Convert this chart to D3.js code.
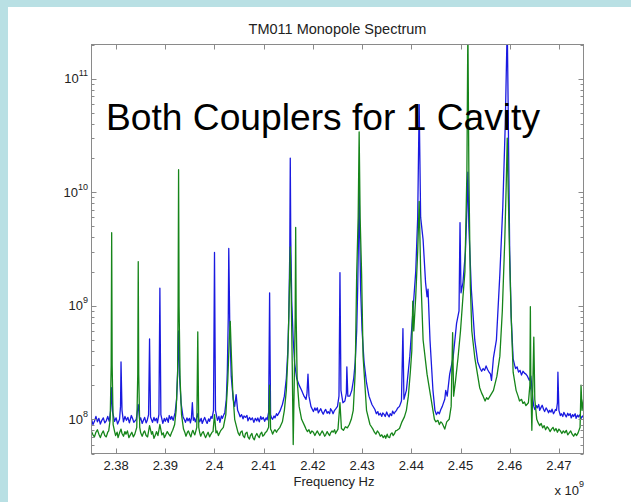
<!DOCTYPE html>
<html>
<head>
<meta charset="utf-8">
<script src="https://cdn.jsdelivr.net/npm/d3@7"></script>
<style>
  body { margin: 0; background: #b9e0e4; }
  svg { display: block; }
</style>
</head>
<body>
<svg id="chart" width="631" height="502"></svg>
<script>
// tick values / labels
const xTicks = [2.38, 2.39, 2.40, 2.41, 2.42, 2.43, 2.44, 2.45, 2.46, 2.47];
const xTickLabels = ['2.38', '2.39', '2.4', '2.41', '2.42', '2.43', '2.44', '2.45', '2.46', '2.47'];
const yTickExps = [8, 9, 10, 11];

// spectra: [frequency (GHz), amplitude]
const blueSpectrum = [
  [2.3750, 1.00e8], [2.3753, 9.0e7], [2.3756, 9.6e7], [2.3759, 1.06e8], [2.3762, 9.5e7], [2.3765, 1.02e8],
  [2.3768, 9.1e7], [2.3771, 9.8e7], [2.3774, 1.03e8], [2.3777, 9.3e7], [2.3780, 9.7e7], [2.3783, 1.06e8],
  [2.3786, 9.6e7], [2.3789, 1.2e8], [2.3791, 1.9e8], [2.3793, 1.15e8],
  [2.3797, 9.6e7], [2.3800, 1.03e8], [2.3803, 9.1e7], [2.3807, 1.0e8], [2.3809, 1.3e8], [2.3810, 3.2e8],
  [2.3812, 1.2e8], [2.3815, 9.5e7], [2.3818, 1.06e8], [2.3821, 9.8e7], [2.3824, 1.04e8], [2.3827, 9.3e7], [2.3831, 1.08e8],
  [2.3834, 1.0e8], [2.3836, 9.4e7], [2.3841, 1.0e8], [2.3845, 1.35e8], [2.3848, 9.8e7], [2.3850, 1.03e8], [2.3853, 9.2e7],
  [2.3856, 9.9e7], [2.3858, 1.04e8], [2.3861, 9.3e7], [2.3863, 9.7e7], [2.3866, 1.1e8], [2.3868, 5.1e8], [2.3870, 1.05e8],
  [2.3874, 9.4e7], [2.3877, 1.04e8], [2.3879, 9.7e7], [2.3882, 1.02e8], [2.3884, 9.3e7], [2.3887, 1.1e8], [2.3889, 1.43e9],
  [2.3891, 1.1e8], [2.3895, 9.2e7], [2.3898, 1.02e8], [2.3900, 9.6e7], [2.3903, 1.03e8], [2.3906, 9.4e7], [2.3908, 1.08e8],
  [2.3911, 1.0e8], [2.3913, 1.06e8], [2.3916, 9.8e7], [2.3920, 1.15e8], [2.3923, 1.5e8], [2.3925, 2.6e8], [2.3927, 6.0e8],
  [2.3929, 2.4e8], [2.3932, 1.4e8], [2.3936, 1.05e8], [2.3939, 9.9e7], [2.3941, 9.4e7], [2.3944, 1.03e8], [2.3946, 9.7e7],
  [2.3949, 1.02e8], [2.3951, 9.3e7], [2.3953, 1.02e8], [2.3955, 1.4e8], [2.3957, 9.8e7], [2.3959, 1.03e8], [2.3961, 9.5e7],
  [2.3964, 1.04e8], [2.3966, 1.12e8], [2.3968, 1.0e8], [2.3970, 9.5e7], [2.3973, 1.02e8], [2.3975, 9.2e7], [2.3978, 9.9e7],
  [2.3980, 1.04e8], [2.3983, 9.6e7], [2.3985, 9.2e7], [2.3988, 1.01e8], [2.3990, 9.6e7], [2.3993, 1.06e8], [2.3995, 1.02e8],
  [2.3998, 1.2e8], [2.4000, 2.95e9], [2.4002, 1.2e8],
  [2.4006, 9.8e7], [2.4009, 1.06e8], [2.4011, 9.4e7], [2.4014, 1.07e8], [2.4016, 1.02e8], [2.4019, 1.1e8], [2.4021, 1.15e8], [2.4024, 1.5e8],
  [2.4026, 2.6e8], [2.4028, 8e8], [2.4029, 3.2e9], [2.4031, 7e8], [2.4034, 2.4e8],
  [2.4038, 1.5e8], [2.4041, 1.3e8], [2.4044, 1.65e8], [2.4047, 1.2e8], [2.4050, 1.12e8], [2.4052, 1.05e8],
  [2.4055, 1.1e8], [2.4058, 1.01e8], [2.4060, 1.07e8], [2.4063, 1.04e8], [2.4066, 1.08e8], [2.4068, 9.7e7], [2.4071, 1.04e8],
  [2.4074, 9.9e7], [2.4077, 1.03e8], [2.4080, 9.4e7], [2.4083, 1.02e8],
  [2.4086, 9.7e7], [2.4088, 1.03e8], [2.4091, 9.5e7], [2.4094, 1.06e8], [2.4096, 1.0e8], [2.4099, 1.04e8], [2.4102, 9.6e7],
  [2.4105, 1.03e8], [2.4107, 9.9e7],
  [2.4110, 1.15e8], [2.4112, 1.3e9], [2.4114, 1.1e8], [2.4116, 1.03e8], [2.4118, 1.0e8], [2.4121, 1.07e8], [2.4123, 1.03e8],
  [2.4126, 1.12e8], [2.4128, 1.08e8], [2.4131, 1.14e8], [2.4133, 1.18e8], [2.4138, 1.35e8], [2.4142, 1.6e8], [2.4146, 2.3e8],
  [2.4149, 4e8], [2.4151, 8e8], [2.4153, 3e9], [2.4154, 2.0e10], [2.4155, 4e9],
  [2.4157, 1.1e9], [2.4160, 5e8], [2.4163, 3.1e8], [2.4167, 2.3e8], [2.4172, 2.0e8],
  [2.4177, 1.8e8], [2.4182, 1.6e8], [2.4186, 1.5e8], [2.4188, 1.7e8], [2.4190, 2.5e8],
  [2.4192, 1.6e8], [2.4196, 1.3e8], [2.4199, 1.22e8], [2.4201, 1.17e8], [2.4204, 1.26e8], [2.4206, 1.2e8], [2.4209, 1.26e8],
  [2.4211, 1.14e8], [2.4214, 1.2e8], [2.4216, 1.24e8], [2.4219, 1.15e8], [2.4221, 1.11e8], [2.4224, 1.19e8], [2.4226, 1.22e8],
  [2.4229, 1.13e8], [2.4231, 1.17e8], [2.4234, 1.12e8], [2.4236, 1.24e8], [2.4239, 1.18e8],
  [2.4241, 1.12e8], [2.4244, 1.2e8], [2.4246, 1.23e8], [2.4250, 1.3e8], [2.4253, 1.6e8], [2.4255, 1.96e9],
  [2.4257, 1.8e8], [2.4261, 1.4e8], [2.4265, 1.45e8], [2.4268, 1.7e8], [2.4269, 2.9e8],
  [2.4271, 1.6e8], [2.4275, 1.6e8], [2.4279, 1.8e8], [2.4283, 2.3e8], [2.4286, 3.2e8],
  [2.4289, 6e8], [2.4291, 1.4e9], [2.4293, 5e9], [2.4294, 1.2e10], [2.4295, 5e9],
  [2.4297, 1.4e9], [2.4300, 6e8], [2.4304, 3.2e8], [2.4309, 2.1e8], [2.4314, 1.6e8],
  [2.4320, 1.35e8], [2.4326, 1.22e8], [2.4329, 1.12e8], [2.4332, 1.17e8], [2.4334, 1.09e8], [2.4337, 1.13e8], [2.4340, 1.06e8],
  [2.4342, 1.14e8], [2.4345, 1.1e8], [2.4347, 1.06e8], [2.4350, 1.16e8], [2.4352, 1.1e8], [2.4355, 1.05e8], [2.4357, 1.12e8],
  [2.4360, 1.08e8], [2.4362, 1.18e8], [2.4365, 1.12e8], [2.4367, 1.16e8], [2.4370, 1.2e8],
  [2.4372, 1.25e8], [2.4376, 1.3e8], [2.4380, 1.45e8], [2.4383, 6.3e8], [2.4385, 1.5e8],
  [2.4390, 1.8e8], [2.4397, 3.6e8], [2.4404, 9.9e8], [2.4409, 2e9], [2.4413, 6e9],
  [2.4416, 5.9e10], [2.4419, 6e9], [2.4424, 3.8e9], [2.4429, 1.6e9], [2.4432, 1.2e9],
  [2.4434, 1.4e9], [2.4438, 5e8], [2.4444, 1.8e8], [2.4448, 1.2e8], [2.4451, 1.1e8], [2.4454, 1.16e8], [2.4457, 1.12e8],
  [2.4460, 1.22e8], [2.4463, 1.3e8], [2.4468, 1.5e8], [2.4470, 1.8e8], [2.4473, 1.6e8], [2.4478, 2.5e8],
  [2.4485, 3.5e8], [2.4492, 7e8], [2.4497, 9e8], [2.4499, 5.4e9], [2.4501, 1.3e9],
  [2.4505, 1.6e9], [2.4510, 3e9], [2.4513, 7e9], [2.4515, 1.5e10], [2.4517, 5e9],
  [2.4522, 1.4e9], [2.4529, 5e8], [2.4535, 3.2e8], [2.4540, 2.8e8], [2.4543, 2.65e8], [2.4546, 2.8e8],
  [2.4549, 2.7e8], [2.4552, 2.95e8], [2.4555, 2.75e8], [2.4557, 2.65e8], [2.4561, 2.5e8], [2.4563, 2.2e8], [2.4567, 3.5e8],
  [2.4573, 5e8], [2.4580, 1.9e9], [2.4586, 7.5e9], [2.4591, 4e10], [2.4595, 3e11],
  [2.4597, 5e10], [2.4600, 3e9], [2.4603, 8e8], [2.4607, 3.4e8], [2.4610, 3.0e8], [2.4612, 2.8e8], [2.4615, 2.9e8],
  [2.4618, 2.6e8], [2.4621, 2.7e8], [2.4624, 2.45e8], [2.4627, 2.65e8], [2.4630, 2.55e8], [2.4633, 2.5e8], [2.4636, 2.4e8],
  [2.4640, 2.2e8], [2.4643, 2.4e8], [2.4647, 1.5e8], [2.4649, 1.3e8], [2.4651, 1.22e8], [2.4654, 1.32e8], [2.4656, 1.26e8],
  [2.4659, 1.35e8], [2.4661, 1.2e8], [2.4664, 1.28e8], [2.4666, 1.33e8], [2.4669, 1.22e8], [2.4671, 1.17e8], [2.4674, 1.26e8],
  [2.4676, 1.22e8], [2.4679, 1.14e8], [2.4681, 1.2e8], [2.4684, 1.16e8], [2.4686, 1.23e8], [2.4689, 1.12e8],
  [2.4691, 1.16e8], [2.4693, 1.22e8], [2.4695, 1.2e8], [2.4697, 1.4e8], [2.4698, 2.6e8], [2.4700, 1.2e8],
  [2.4703, 1.08e8], [2.4705, 1.12e8], [2.4708, 1.06e8], [2.4710, 1.15e8], [2.4713, 1.09e8], [2.4715, 1.05e8], [2.4718, 1.13e8],
  [2.4720, 1.08e8], [2.4723, 1.12e8], [2.4725, 1.03e8], [2.4728, 1.1e8], [2.4730, 1.06e8], [2.4733, 1.12e8], [2.4735, 1.02e8],
  [2.4738, 1.09e8], [2.4740, 1.05e8], [2.4743, 1.1e8], [2.4745, 1.02e8], [2.4748, 1.07e8], [2.4750, 1.04e8]
];

const greenSpectrum = [
  [2.3750, 7.8e7], [2.3753, 7.3e7], [2.3756, 7.0e7], [2.3759, 7.7e7], [2.3762, 8.1e7], [2.3765, 7.4e7],
  [2.3768, 6.9e7], [2.3771, 7.5e7], [2.3774, 7.9e7], [2.3777, 7.2e7], [2.3780, 7.0e7], [2.3783, 7.7e7],
  [2.3785, 7.9e7], [2.3788, 1.0e8], [2.3790, 3e8], [2.3791, 4.4e9],
  [2.3792, 3e8], [2.3794, 9e7], [2.3797, 7.8e7], [2.3799, 7.2e7], [2.3802, 7.7e7], [2.3804, 6.9e7], [2.3807, 7.6e7], [2.3810, 8.2e7],
  [2.3812, 7.5e7], [2.3815, 7.1e7], [2.3818, 7.8e7], [2.3820, 7.4e7], [2.3823, 7.9e7], [2.3826, 6.9e7], [2.3829, 7.3e7],
  [2.3832, 7.7e7], [2.3835, 7.0e7], [2.3838, 7.4e7],
  [2.3842, 8.5e7], [2.3844, 2.5e8], [2.3845, 2.45e9], [2.3846, 2.5e8], [2.3848, 8.5e7],
  [2.3850, 7.6e7], [2.3853, 7.1e7], [2.3856, 7.7e7], [2.3858, 7.9e7], [2.3861, 7.2e7], [2.3864, 7.0e7], [2.3868, 8.8e7], [2.3872, 7.4e7],
  [2.3874, 7.8e7], [2.3877, 6.8e7], [2.3880, 7.3e7], [2.3882, 7.8e7], [2.3885, 7.2e7], [2.3889, 9e7], [2.3893, 7.3e7], [2.3896, 7.6e7], [2.3898, 6.9e7],
  [2.3901, 7.3e7], [2.3904, 7.8e7], [2.3907, 7.4e7], [2.3910, 7.1e7], [2.3913, 7.7e7], [2.3915, 8.0e7], [2.3919, 9e7], [2.3922, 1.2e8],
  [2.3925, 2.5e8], [2.3926, 1e9], [2.3927, 1.58e10], [2.3928, 1e9], [2.3930, 2.3e8],
  [2.3933, 1.1e8], [2.3937, 8.2e7], [2.3940, 7.6e7], [2.3942, 7.1e7], [2.3945, 7.7e7], [2.3947, 7.9e7], [2.3950, 7.3e7], [2.3952, 7.0e7],
  [2.3954, 7.6e7], [2.3956, 8.0e7], [2.3958, 7.6e7], [2.3960, 7.3e7], [2.3964, 8.5e7], [2.3966, 5.9e8], [2.3968, 8.5e7],
  [2.3970, 7.6e7], [2.3972, 7.1e7], [2.3975, 7.6e7], [2.3977, 7.8e7], [2.3980, 7.2e7], [2.3982, 6.9e7], [2.3985, 7.4e7], [2.3987, 7.7e7],
  [2.3990, 7.0e7], [2.3992, 7.3e7], [2.3995, 7.7e7],
  [2.3997, 7.8e7], [2.4000, 1.1e8], [2.4003, 7.6e7], [2.4005, 7.9e7], [2.4008, 7.2e7], [2.4011, 7.7e7], [2.4013, 8.0e7],
  [2.4018, 8.5e7], [2.4023, 1.1e8], [2.4027, 2.2e8], [2.4030, 5e8], [2.4032, 7.3e8],
  [2.4034, 4e8], [2.4037, 1.8e8], [2.4041, 1.0e8], [2.4046, 8.2e7], [2.4048, 7.6e7], [2.4051, 7.2e7],
  [2.4053, 7.7e7], [2.4056, 7.9e7], [2.4058, 7.2e7], [2.4061, 6.9e7], [2.4063, 7.5e7], [2.4066, 7.7e7], [2.4068, 7.0e7], [2.4071, 6.7e7],
  [2.4073, 7.2e7], [2.4076, 7.5e7], [2.4078, 6.9e7], [2.4081, 6.6e7], [2.4083, 7.1e7], [2.4086, 7.5e7], [2.4088, 7.2e7], [2.4091, 6.9e7],
  [2.4093, 7.4e7], [2.4096, 7.7e7], [2.4098, 7.1e7], [2.4101, 7.3e7], [2.4103, 7.6e7],
  [2.4106, 7.8e7], [2.4110, 8.5e7], [2.4112, 2e8], [2.4114, 8.2e7], [2.4116, 7.9e7], [2.4118, 7.4e7], [2.4121, 7.9e7],
  [2.4123, 8.1e7], [2.4126, 7.7e7], [2.4128, 8.0e7], [2.4133, 8.5e7], [2.4138, 9.5e7], [2.4142, 1.2e8],
  [2.4146, 1.8e8], [2.4149, 3.5e8], [2.4151, 8e8], [2.4153, 2e9], [2.4154, 3.3e9],
  [2.4156, 1.2e9], [2.4158, 3e8], [2.4160, 6e7], [2.4162, 2e8], [2.4164, 8e8],
  [2.4165, 4.9e9], [2.4166, 8e8], [2.4168, 2.2e8], [2.4172, 1.3e8], [2.4177, 1.0e8],
  [2.4183, 8.8e7], [2.4186, 8.2e7], [2.4189, 7.8e7], [2.4192, 8.1e7], [2.4195, 7.5e7], [2.4198, 7.9e7], [2.4201, 7.7e7],
  [2.4204, 7.2e7], [2.4206, 7.5e7], [2.4209, 7.9e7], [2.4211, 7.6e7], [2.4214, 7.2e7], [2.4216, 7.5e7], [2.4219, 7.9e7],
  [2.4221, 7.6e7], [2.4224, 7.1e7], [2.4226, 7.3e7], [2.4229, 7.8e7], [2.4231, 7.5e7], [2.4234, 7.2e7],
  [2.4236, 7.6e7], [2.4239, 7.9e7], [2.4241, 7.7e7], [2.4244, 8.1e7], [2.4246, 7.5e7], [2.4249, 7.9e7], [2.4251, 8.2e7], [2.4255, 1.4e8],
  [2.4258, 8.3e7], [2.4262, 8.0e7], [2.4266, 8.6e7], [2.4270, 8.4e7], [2.4274, 9e7],
  [2.4278, 1.0e8], [2.4282, 1.2e8], [2.4286, 2.6e8], [2.4289, 1.9e9], [2.4292, 6e9],
  [2.4294, 3.4e10], [2.4296, 6e9], [2.4299, 1.9e9], [2.4302, 3.6e8], [2.4309, 1.2e8],
  [2.4316, 9e7], [2.4322, 8.2e7], [2.4325, 7.7e7], [2.4328, 7.4e7], [2.4331, 7.9e7], [2.4334, 7.6e7], [2.4337, 7.1e7], [2.4340, 7.3e7],
  [2.4343, 6.9e7], [2.4346, 7.2e7], [2.4348, 6.8e7], [2.4351, 7.4e7], [2.4353, 7.0e7], [2.4356, 6.9e7], [2.4358, 7.4e7], [2.4361, 7.6e7],
  [2.4363, 7.2e7], [2.4366, 7.5e7], [2.4368, 7.9e7],
  [2.4371, 8.0e7], [2.4376, 8.3e7], [2.4381, 9.5e7], [2.4386, 1.05e8], [2.4390, 1.2e8],
  [2.4394, 1.6e8], [2.4398, 2.6e8], [2.4401, 4e8], [2.4403, 1.1e9], [2.4405, 6e8],
  [2.4409, 1.2e9], [2.4413, 3e9], [2.4416, 8.3e9], [2.4419, 2e9], [2.4424, 5e8],
  [2.4432, 2.5e8], [2.4444, 1.2e8], [2.4447, 1.0e8], [2.4450, 9.5e7], [2.4454, 9.8e7], [2.4457, 9.0e7], [2.4460, 9.5e7], [2.4463, 9.2e7],
  [2.4466, 8.6e7], [2.4468, 8.2e7], [2.4472, 9.5e7], [2.4477, 1.0e8], [2.4481, 1.3e8], [2.4484, 5.8e8],
  [2.4486, 1.6e8], [2.4490, 2.2e8], [2.4495, 3.5e8], [2.4500, 6e8], [2.4505, 1.2e9],
  [2.4509, 2e9], [2.4511, 5.5e9], [2.4513, 1.5e10], [2.4515, 3e11], [2.4517, 1.5e10],
  [2.4520, 1.5e9], [2.4523, 6e8], [2.4529, 3.5e8], [2.4539, 1.9e8], [2.4543, 1.7e8], [2.4546, 1.6e8],
  [2.4550, 1.45e8], [2.4553, 1.55e8], [2.4556, 1.5e8], [2.4560, 1.6e8], [2.4567, 1.8e8], [2.4574, 2.4e8], [2.4580, 3.6e8],
  [2.4585, 9e8], [2.4590, 3.8e9], [2.4593, 1.2e10], [2.4595, 3e10], [2.4597, 1e10],
  [2.4600, 2.5e9], [2.4603, 8e8], [2.4607, 2.6e8], [2.4613, 1.8e8], [2.4617, 1.6e8], [2.4620, 1.45e8], [2.4624, 1.5e8],
  [2.4627, 1.38e8], [2.4630, 1.42e8], [2.4633, 1.32e8], [2.4638, 1.4e8], [2.4641, 2e8], [2.4642, 9.8e8],
  [2.4643, 2e8], [2.4645, 8e7], [2.4647, 2e8], [2.4649, 5.3e8], [2.4651, 1.5e8],
  [2.4655, 1.0e8], [2.4658, 9.3e7], [2.4661, 8.8e7], [2.4664, 9.2e7], [2.4667, 8.4e7], [2.4670, 8.8e7], [2.4673, 8.1e7],
  [2.4676, 8.6e7], [2.4679, 8.3e7], [2.4682, 7.8e7], [2.4685, 8.2e7], [2.4688, 8.5e7], [2.4691, 7.9e7], [2.4694, 8.3e7],
  [2.4697, 7.7e7], [2.4700, 8.2e7], [2.4703, 7.9e7], [2.4706, 7.5e7], [2.4709, 7.9e7], [2.4712, 7.6e7], [2.4715, 8.0e7],
  [2.4718, 7.3e7], [2.4721, 7.6e7], [2.4724, 7.9e7], [2.4727, 7.4e7], [2.4730, 7.1e7], [2.4733, 7.5e7], [2.4736, 7.2e7],
  [2.4739, 7.6e7], [2.4743, 8.5e7], [2.4745, 2e8], [2.4747, 1.2e8], [2.4750, 1.5e8]
];

const titleText = 'TM011 Monopole Spectrum';
const xLabelText = 'Frequency Hz';
const noteText = 'Both Couplers for 1 Cavity';

const font = '"Liberation Sans", Arial, sans-serif';
const frameColor = '#8a8a8a';

const box = { left: 91.5, right: 583.5, top: 44.5, bottom: 453.5 };

const svg = d3.select('#chart');

// white panel on the light blue page
svg.append('rect')
    .attr('x', 8).attr('y', 7)
    .attr('width', 623).attr('height', 495)
    .attr('fill', '#ffffff');

const x = d3.scaleLinear().domain([2.375, 2.475]).range([box.left, box.right]);
const y = d3.scaleLog().domain([5e7, 2e11]).range([box.bottom, box.top]);

svg.append('clipPath').attr('id', 'plot-clip')
    .append('rect')
    .attr('x', box.left).attr('y', box.top)
    .attr('width', box.right - box.left).attr('height', box.bottom - box.top);

const line = d3.line()
    .x(d => x(d[0]))
    .y(d => y(d[1]));

const plot = svg.append('g').attr('clip-path', 'url(#plot-clip)');

plot.append('path')
    .datum(blueSpectrum)
    .attr('d', line)
    .attr('fill', 'none')
    .attr('stroke', '#1a1ae0')
    .attr('stroke-width', 1.3)
    .attr('stroke-linejoin', 'round');

plot.append('path')
    .datum(greenSpectrum)
    .attr('d', line)
    .attr('fill', 'none')
    .attr('stroke', '#16851a')
    .attr('stroke-width', 1.3)
    .attr('stroke-linejoin', 'round');

// box
svg.append('rect')
    .attr('x', box.left).attr('y', box.top)
    .attr('width', box.right - box.left).attr('height', box.bottom - box.top)
    .attr('fill', 'none')
    .attr('stroke', frameColor)
    .attr('stroke-width', 1);

const ticks = svg.append('g')
    .attr('stroke', frameColor)
    .attr('stroke-width', 1);

// x ticks, inward on bottom and top
xTicks.forEach(t => {
    const px = Math.round(x(t)) + 0.5;
    ticks.append('line').attr('x1', px).attr('x2', px)
        .attr('y1', box.bottom).attr('y2', box.bottom - 5);
    ticks.append('line').attr('x1', px).attr('x2', px)
        .attr('y1', box.top).attr('y2', box.top + 5);
});

// y ticks (minor from the log scale, major at the decades)
const majors = yTickExps.map(e => Math.pow(10, e));
y.ticks().forEach(v => {
    const isMajor = majors.some(m => Math.abs(m - v) / m < 1e-6);
    const len = isMajor ? 5 : 3;
    const py = Math.round(y(v)) + 0.5;
    ticks.append('line').attr('x1', box.left).attr('x2', box.left + len)
        .attr('y1', py).attr('y2', py);
    ticks.append('line').attr('x1', box.right).attr('x2', box.right - len)
        .attr('y1', py).attr('y2', py);
});

// x tick labels
svg.append('g')
    .selectAll('text')
    .data(xTicks)
    .join('text')
    .attr('x', d => x(d))
    .attr('y', 470)
    .attr('text-anchor', 'middle')
    .attr('font-family', font)
    .attr('font-size', 13)
    .attr('fill', '#222')
    .text((d, i) => xTickLabels[i]);

// y tick labels: 10 with superscript exponent
const yLab = svg.append('g')
    .selectAll('text')
    .data(yTickExps)
    .join('text')
    .attr('x', 88)
    .attr('y', d => y(Math.pow(10, d)) + 4.5)
    .attr('text-anchor', 'end')
    .attr('font-family', font)
    .attr('font-size', 13)
    .attr('fill', '#222');
yLab.append('tspan').text('10');
yLab.append('tspan')
    .attr('dy', -7)
    .attr('font-size', 9)
    .text(d => d);

// title
svg.append('text')
    .attr('x', (box.left + box.right) / 2)
    .attr('y', 34)
    .attr('text-anchor', 'middle')
    .attr('font-family', font)
    .attr('font-size', 14.5)
    .attr('fill', '#222')
    .text(titleText);

// x axis label
svg.append('text')
    .attr('x', 334)
    .attr('y', 486)
    .attr('text-anchor', 'middle')
    .attr('font-family', font)
    .attr('font-size', 13)
    .attr('fill', '#222')
    .text(xLabelText);

// exponent note under the axis
const expNote = svg.append('text')
    .attr('x', 584)
    .attr('y', 495)
    .attr('text-anchor', 'end')
    .attr('font-family', font)
    .attr('font-size', 13)
    .attr('fill', '#222');
expNote.append('tspan').text('x 10');
expNote.append('tspan').attr('dy', -8).attr('font-size', 9).text('9');

// big annotation over the plot
svg.append('text')
    .attr('x', 106)
    .attr('y', 130)
    .attr('font-family', font)
    .attr('font-size', 37.2)
    .attr('fill', '#000')
    .text(noteText);
</script>
</body>
</html>
